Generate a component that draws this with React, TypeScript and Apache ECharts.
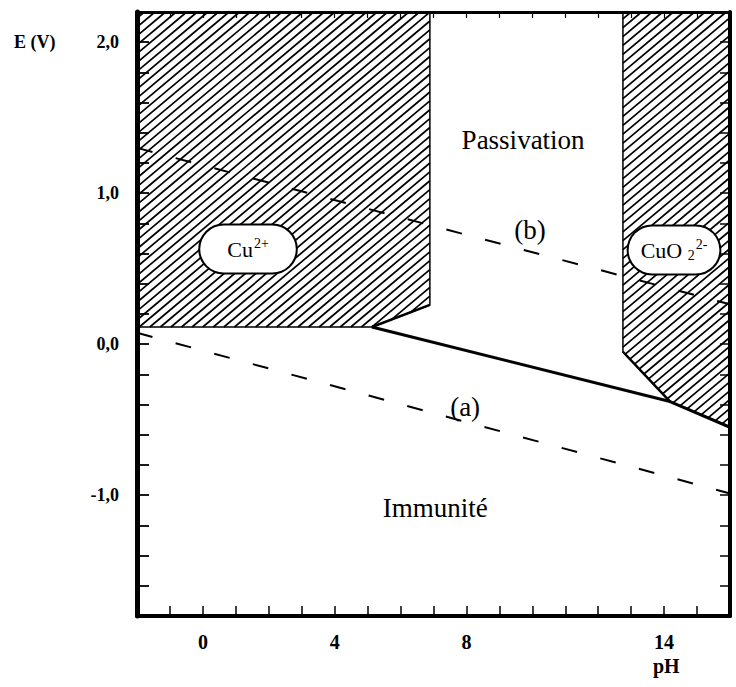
import React, { useEffect, useRef } from 'react';
import * as echarts from 'echarts';

// Axis tick labels
const xLabelValues = [0, 4, 8, 14];
const yLabelValues = [2, 1, 0, -1];

// Domains (pH, E in V)
const cu2Region: number[][] = [[-2, 2.2], [6.89, 2.2], [6.89, 0.26], [5.13, 0.114], [-2, 0.114]];
const cuo2Region: number[][] = [[12.75, 2.2], [16, 2.2], [16, -0.55], [14.18, -0.38], [12.75, -0.05]];

// Boundaries
const cuCu2oLine: number[][] = [[5.13, 0.114], [14.18, -0.38], [16, -0.55]];
const cu2Slant: number[][] = [[5.13, 0.114], [6.89, 0.26]];
const cuo2Slant: number[][] = [[12.75, -0.05], [14.18, -0.38]];

// Water stability lines
const waterLineA: number[][] = [[-2, 0.076], [16, -0.989]];
const waterLineB: number[][] = [[-2, 1.3], [16, 0.264]];

// Annotations
const annotationNames = ['Passivation', '(b)', '(a)', 'Immunité', 'Cu2+', 'CuO2 2-'];
const annotationPositions: number[][] = [[9.72, 1.352], [9.93, 0.756], [7.96, -0.416], [7.05, -1.085], [1.37, 0.63], [14.3, 0.624]];

const SERIF = '"Liberation Serif", "DejaVu Serif", serif';

function hatchLines(pts: number[][], spacing: number, angleDeg: number, width: number) {
  const th = (angleDeg * Math.PI) / 180;
  const n = [Math.sin(th), Math.cos(th)];
  const d = [Math.cos(th), -Math.sin(th)];
  const proj = pts.map((p) => p[0] * n[0] + p[1] * n[1]);
  const cmin = Math.min(...proj);
  const cmax = Math.max(...proj);
  const out: any[] = [];
  for (let c = Math.ceil(cmin / spacing) * spacing; c <= cmax; c += spacing) {
    const hits: number[][] = [];
    for (let i = 0; i < pts.length; i++) {
      const j = (i + 1) % pts.length;
      const a = proj[i] - c;
      const b = proj[j] - c;
      if ((a <= 0 && b >= 0) || (a >= 0 && b <= 0)) {
        if (a === b) continue;
        const t = a / (a - b);
        hits.push([pts[i][0] + t * (pts[j][0] - pts[i][0]), pts[i][1] + t * (pts[j][1] - pts[i][1])]);
      }
    }
    if (hits.length < 2) continue;
    hits.sort((u, v) => u[0] * d[0] + u[1] * d[1] - (v[0] * d[0] + v[1] * d[1]));
    const s = hits[0];
    const e = hits[hits.length - 1];
    out.push({
      type: 'line',
      shape: { x1: s[0], y1: s[1], x2: e[0], y2: e[1] },
      style: { stroke: '#000', lineWidth: width },
    });
  }
  return out;
}

function regionSeries(name: string, region: number[][]) {
  return {
    name,
    type: 'custom',
    z: 1,
    silent: true,
    data: region,
    renderItem: (params: any, api: any) => {
      if (params.dataIndex !== 0) return null;
      const pts = region.map((p) => api.coord(p));
      return {
        type: 'group',
        children: [
          ...hatchLines(pts, 6.8, 40, 1.7),
          {
            type: 'polygon',
            shape: { points: pts },
            style: { fill: 'none', stroke: '#000', lineWidth: 1.5 },
          },
        ],
      };
    },
  };
}

function lineSeries(name: string, data: number[][], width: number, dashed: boolean) {
  return {
    name,
    type: 'line',
    z: 3,
    silent: true,
    symbol: 'none',
    data,
    lineStyle: { color: '#000', width, type: dashed ? [16, 24] : 'solid' },
  };
}

function boxLabel(padX: number) {
  return {
    backgroundColor: '#fff',
    borderColor: '#000',
    borderWidth: 2,
    borderRadius: 24,
    padding: [11, padX, 10, padX],
  };
}

function labelFormatter(p: any) {
  const name = p.name;
  if (name === 'Cu2+') return '{base|Cu}{sup|2+}';
  if (name === 'CuO2 2-') return '{base|CuO }{sub|2}{sup|2-}';
  return '{plain|' + name + '}';
}

export default function App() {
  const ref = useRef<HTMLDivElement>(null);
  useEffect(() => {
    if (!ref.current) return;
    const chart = echarts.init(ref.current, undefined, { renderer: 'svg' });
    const axisLabelFont = { color: '#000', fontFamily: SERIF, fontWeight: 'bold' as const };
    const labelPad: Record<string, number> = { 'Cu2+': 27, 'CuO2 2-': 12 };
    chart.setOption({
      animation: false,
      backgroundColor: '#fff',
      grid: { left: 137, right: 6, top: 12, bottom: 71, containLabel: false },
      xAxis: [
        {
          type: 'value',
          position: 'bottom',
          min: -2,
          max: 16,
          interval: 1,
          z: 10,
          axisLine: { onZero: false, lineStyle: { color: '#000', width: 4 } },
          axisTick: { inside: true, length: 10, lineStyle: { color: '#000', width: 1.5 } },
          splitLine: { show: false },
          axisLabel: {
            ...axisLabelFont,
            fontSize: 20,
            margin: 16,
            formatter: (v: number) => (xLabelValues.some((t) => Math.abs(t - v) < 1e-6) ? String(Math.round(v)) : ''),
          },
        },
        {
          type: 'value',
          position: 'top',
          min: -2,
          max: 16,
          interval: 1,
          z: 10,
          axisLine: { onZero: false, lineStyle: { color: '#000', width: 3 } },
          axisTick: { inside: true, length: 6, lineStyle: { color: '#000', width: 1.2 } },
          splitLine: { show: false },
          axisLabel: { show: false },
        },
      ],
      yAxis: [
        {
          type: 'value',
          position: 'left',
          min: -1.8,
          max: 2.2,
          interval: 0.2,
          z: 10,
          axisLine: { onZero: false, lineStyle: { color: '#000', width: 5 } },
          axisTick: { inside: true, length: 12, lineStyle: { color: '#000', width: 1.8 } },
          splitLine: { show: false },
          axisLabel: {
            ...axisLabelFont,
            fontSize: 18,
            margin: 18,
            formatter: (v: number) => {
              const r = Math.round(v);
              if (Math.abs(v - r) < 1e-6 && yLabelValues.includes(r)) return r.toFixed(1).replace('.', ',');
              return '';
            },
          },
        },
        {
          type: 'value',
          position: 'right',
          min: -1.8,
          max: 2.2,
          interval: 0.2,
          z: 10,
          axisLine: { onZero: false, lineStyle: { color: '#000', width: 4 } },
          axisTick: { inside: true, length: 10, lineStyle: { color: '#000', width: 1.5 } },
          splitLine: { show: false },
          axisLabel: { show: false },
        },
      ],
      graphic: [
        {
          type: 'text',
          left: 14,
          top: 33,
          style: { text: 'E (V)', font: 'bold 18px ' + SERIF, fill: '#000' },
        },
        {
          type: 'text',
          left: 653,
          top: 656,
          style: { text: 'pH', font: 'bold 20px ' + SERIF, fill: '#000' },
        },
      ],
      series: [
        regionSeries('Cu2+', cu2Region),
        regionSeries('CuO2 2-', cuo2Region),
        lineSeries('Cu/Cu2O', cuCu2oLine, 3, false),
        lineSeries('Cu2+ edge', cu2Slant, 2.5, false),
        lineSeries('CuO2 edge', cuo2Slant, 2.5, false),
        lineSeries('(a)', waterLineA, 2, true),
        lineSeries('(b)', waterLineB, 2, true),
        {
          name: 'labels',
          type: 'scatter',
          z: 5,
          silent: true,
          symbolSize: 0,
          itemStyle: { opacity: 1 },
          data: annotationNames.map((n, i) => ({
            name: n,
            value: annotationPositions[i],
            label: labelPad[n] !== undefined ? boxLabel(labelPad[n]) : {},
          })),
          label: {
            show: true,
            position: 'inside',
            formatter: labelFormatter,
            color: '#000',
            opacity: 1,
            fontFamily: SERIF,
            rich: {
              plain: { fontSize: 27, fontFamily: SERIF, color: '#000' },
              base: { fontSize: 22, fontFamily: SERIF, color: '#000' },
              sup: { fontSize: 14, fontFamily: SERIF, color: '#000', padding: [0, 0, 12, 1] },
              sub: { fontSize: 14, fontFamily: SERIF, color: '#000', padding: [10, 0, 0, 0] },
            },
          },
        },
      ],
    });
    return () => chart.dispose();
  }, []);
  return <div ref={ref} style={{ position: 'absolute', left: 0, top: 0, width: 736, height: 687 }} />;
}
